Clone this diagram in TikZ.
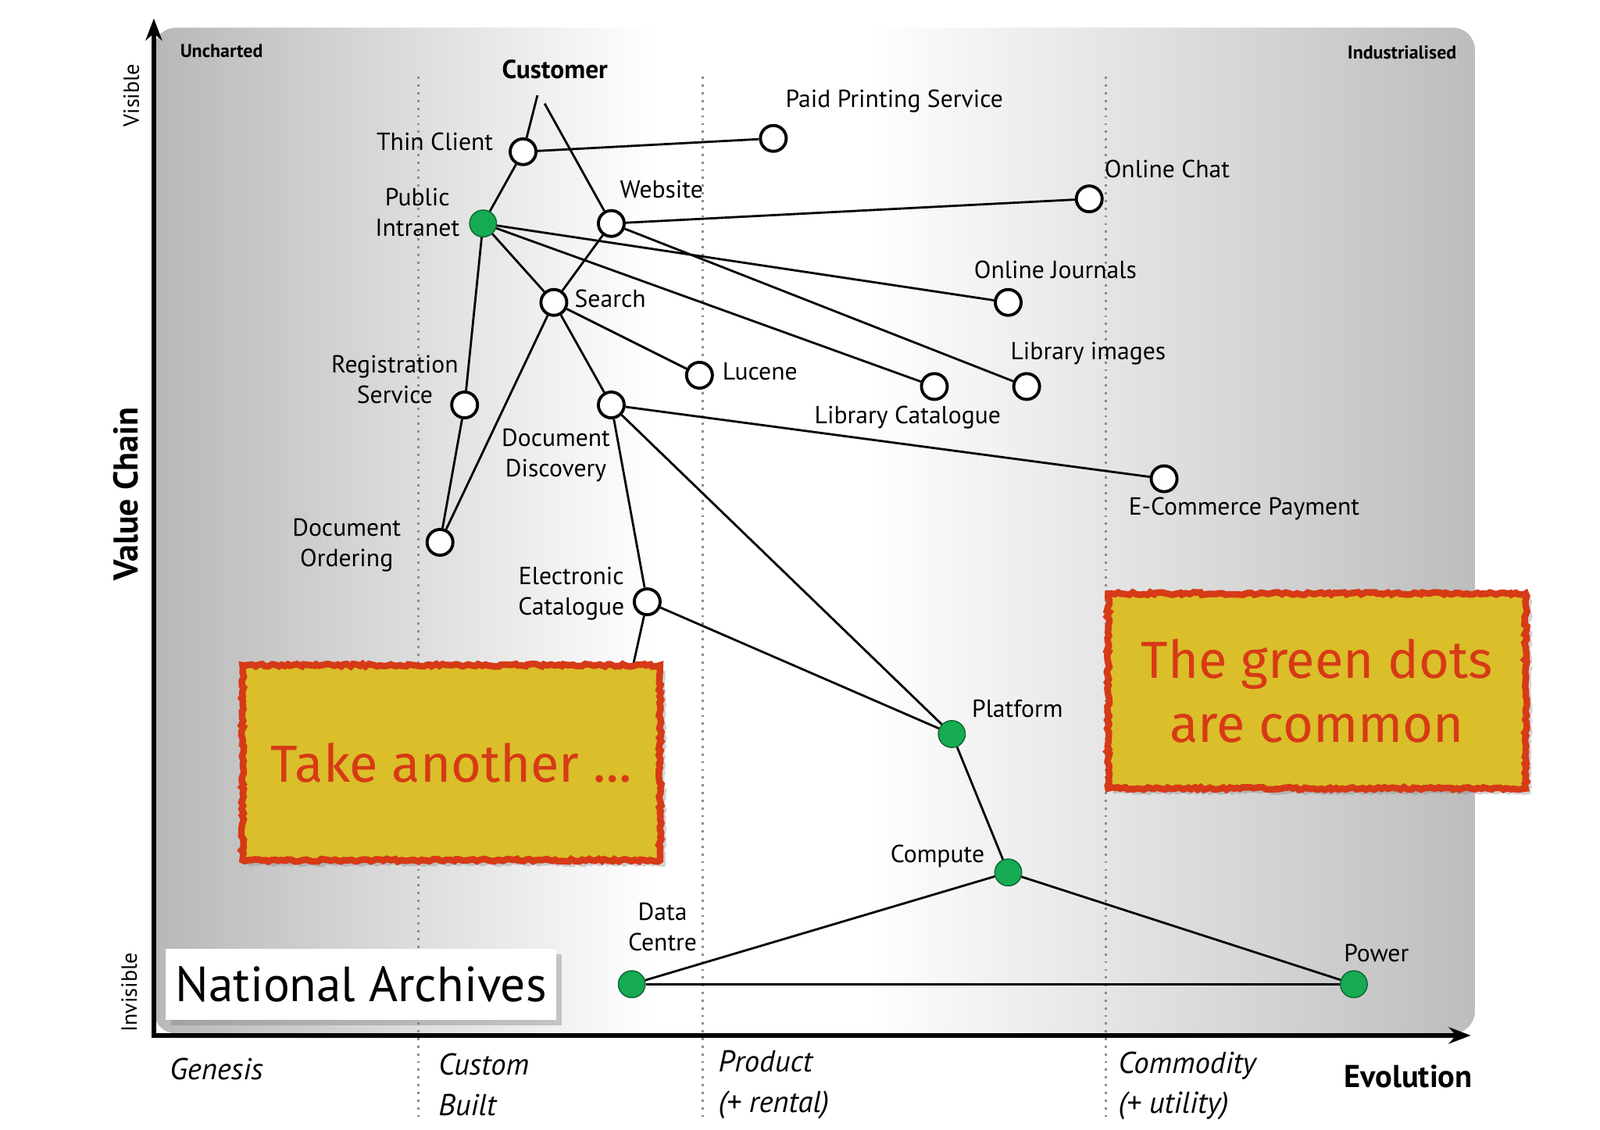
\documentclass[tikz,border=0pt]{standalone}
\usepackage{fontspec}
\setmainfont{PT Sans}
\newfontfamily\notefont{Fira Sans}
\usetikzlibrary{arrows.meta,shadows,decorations.pathmorphing}
\definecolor{dotgreen}{RGB}{22,170,82}
\definecolor{noteyellow}{RGB}{218,190,42}
\definecolor{notered}{RGB}{214,58,22}
\pgfdeclarehorizontalshading{mapshade}{100bp}{color(0bp)=(black!28); color(25bp)=(black!28); color(44bp)=(white); color(52bp)=(white); color(75bp)=(black!26); color(100bp)=(black!26)}
\begin{document}
\begin{tikzpicture}[x=0.013128cm, y=-0.013128cm,
	comp/.style={circle, draw, line width=1.1pt, fill=white, minimum size=9.4pt, inner sep=0pt},
	common/.style={circle, draw=dotgreen!60!black, line width=0.4pt, fill=dotgreen, minimum size=9.8pt, inner sep=0pt},
	lbl/.style={font=\fontsize{9}{11.2}\selectfont, align=center, inner sep=0pt},
	link/.style={line width=0.8pt},
	phase/.style={black!45, line width=0.8pt, dash pattern=on 0.8pt off 2pt},
	axis/.style={line width=1.6pt, {Stealth[length=8pt,width=6pt]}-{Stealth[length=8pt,width=6pt]}},
	corner/.style={font=\fontsize{6.8}{8}\selectfont\bfseries, inner sep=0pt},
	side/.style={font=\fontsize{8}{9}\selectfont, rotate=90, inner sep=0pt},
	stage/.style={font=\fontsize{11}{14.6}\selectfont\itshape, align=left, anchor=west, inner sep=0pt},
	note/.style={draw=notered, line width=2.4pt, fill=noteyellow, decorate,
		decoration={random steps, segment length=1.2pt, amplitude=0.5pt},
		minimum width=152pt, minimum height=71pt, text=notered, align=center,
		font=\notefont\fontsize{19}{23.5}\selectfont,
		drop shadow={opacity=0.35, shadow xshift=2pt, shadow yshift=-2pt}},
	natbox/.style={fill=white, minimum width=142pt, minimum height=26pt, inner sep=0pt,
		font=\fontsize{18}{20}\selectfont,
		drop shadow={opacity=0.4, shadow xshift=2pt, shadow yshift=-2pt}}]
	\path[use as bounding box] (0,0) rectangle (1560,1102);
	% map background
	\shade[shading=mapshade, rounded corners=8pt] (150,27) rectangle (1438,1008);
	\foreach \x in {408,685,1078}
		\draw[phase] (\x,75) -- (\x,1090);
	\coordinate (ytop) at (150,18);
	\coordinate (origin) at (150,1010);
	\coordinate (xend) at (1434,1010);
	\draw[axis] (ytop) -- (origin) -- (xend);
	% axis texts
	\node (unch)	at ( 216,   50)	[corner]	{Uncharted};
	\node (ind)	at (1367,   51)	[corner]	{Industrialised};
	\node (vis)	at ( 128,   93)	[side]	{Visible};
	\node (invis)	at ( 126,  968)	[side]	{Invisible};
	\node (vc)	at ( 123,  482)	[rotate=90, font=\fontsize{12.5}{14}\selectfont\bfseries]	{Value Chain};
	\node (gen)	at ( 165, 1043)	[stage]	{Genesis};
	\node (built)	at ( 427, 1058)	[stage]	{Custom\\Built};
	\node (prod)	at ( 700, 1058)	[stage]	{Product\\(+ rental)};
	\node (comm)	at (1090, 1059)	[stage]	{Commodity\\(+ utility)};
	\node (evo)	at (1373, 1050)	[font=\fontsize{11.5}{14}\selectfont\bfseries]	{Evolution};
	% components
	\node (cust)	at ( 541,   68)	[lbl, font=\fontsize{9.5}{11}\selectfont\bfseries]	{Customer};
	\node (tc)	at ( 510,  148)	[comp]	{};
	\node (pps)	at ( 754,  135)	[comp]	{};
	\node (pi)	at ( 471,  218)	[common]	{};
	\node (web)	at ( 596,  218)	[comp]	{};
	\node (chat)	at (1062,  194)	[comp]	{};
	\node (jour)	at ( 983,  295)	[comp]	{};
	\node (srch)	at ( 540,  295)	[comp]	{};
	\node (luc)	at ( 682,  366)	[comp]	{};
	\node (libcat)	at ( 911,  377)	[comp]	{};
	\node (libimg)	at (1001,  377)	[comp]	{};
	\node (reg)	at ( 453,  395)	[comp]	{};
	\node (disc)	at ( 596,  395)	[comp]	{};
	\node (ecom)	at (1135,  467)	[comp]	{};
	\node (ord)	at ( 429,  529)	[comp]	{};
	\node (ecat)	at ( 631,  587)	[comp]	{};
	\node (plat)	at ( 928,  716)	[common]	{};
	\node (cmpt)	at ( 983,  851)	[common]	{};
	\node (dc)	at ( 616,  960)	[common]	{};
	\node (pow)	at (1320,  960)	[common]	{};
	% labels
	\node (tc-l)	at ( 424,  138)	[lbl]	{Thin Client};
	\node (pps-l)	at ( 872,   99)	[lbl]	{Paid Printing Service};
	\node (pi-l)	at ( 407,  207)	[lbl]	{Public\\Intranet};
	\node (web-l)	at ( 645,  185)	[lbl]	{Website};
	\node (chat-l)	at (1138,  165)	[lbl]	{Online Chat};
	\node (jour-l)	at (1029,  263)	[lbl]	{Online Journals};
	\node (srch-l)	at ( 595,  291)	[lbl]	{Search};
	\node (luc-l)	at ( 741,  362)	[lbl]	{Lucene};
	\node (libcat-l)	at ( 885,  407)	[lbl]	{Library Catalogue};
	\node (libimg-l)	at (1061,  345)	[lbl]	{Library images};
	\node (reg-l)	at ( 385,  370)	[lbl]	{Registration\\Service};
	\node (disc-l)	at ( 542,  444)	[lbl]	{Document\\Discovery};
	\node (ecom-l)	at (1213,  496)	[lbl]	{E-Commerce Payment};
	\node (ord-l)	at ( 338,  532)	[lbl]	{Document\\Ordering};
	\node (ecat-l)	at ( 557,  579)	[lbl]	{Electronic\\Catalogue};
	\node (plat-l)	at ( 992,  691)	[lbl]	{Platform};
	\node (cmpt-l)	at ( 914,  835)	[lbl]	{Compute};
	\node (dc-l)	at ( 646,  904)	[lbl]	{Data\\Centre};
	\node (pow-l)	at (1342,  930)	[lbl]	{Power};
	% links
	\coordinate (cust-a) at (524,93);
	\coordinate (cust-b) at (531,101);
	\coordinate (ecat-down) at (606,700);
	\draw[link] (cust-a) -- (tc);
	\draw[link] (cust-b) -- (web);
	\draw[link] (ecat) -- (ecat-down);
	\foreach \a/\b in {tc/pps, tc/pi, pi/jour, pi/libcat, pi/srch, pi/reg, web/chat, web/libimg,
		web/srch, srch/ord, srch/luc, srch/disc, reg/ord, disc/ecom, disc/ecat, disc/plat,
		ecat/plat, plat/cmpt, cmpt/dc, cmpt/pow, dc/pow}
		\draw[link] (\a) -- (\b);
	% notes
	\node (take)	at ( 440,  744)	[note]	{Take another \dots};
	\node (green)	at (1284,  674)	[note]	{The green dots\\are common};
	\node (nat)	at ( 352,  960)	[natbox]	{National Archives};
\end{tikzpicture}
\end{document}
